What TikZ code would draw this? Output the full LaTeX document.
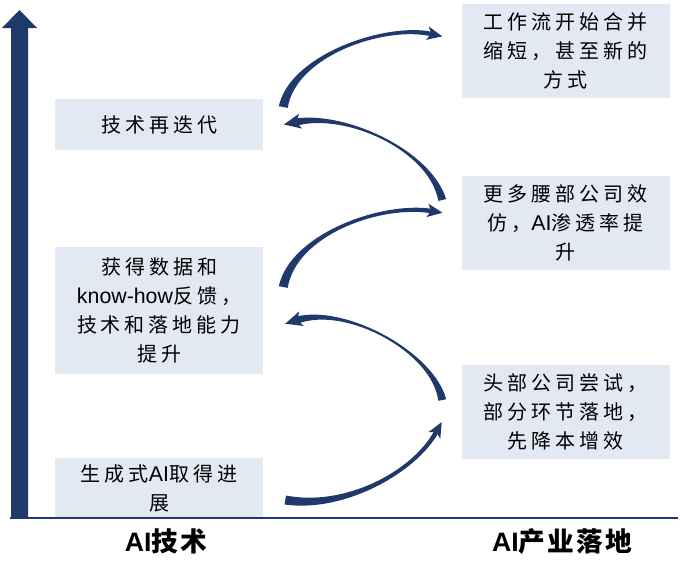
\documentclass[tikz,border=0pt]{standalone}
\usepackage{fontspec}
\usetikzlibrary{calc}
\newfontfamily\cjk{Noto Sans CJK SC}[LetterSpace=20]
\newfontfamily\cjkb{Noto Sans CJK SC}[LetterSpace=8]
\newfontfamily\ltn{Liberation Sans}
\definecolor{navy}{RGB}{30,57,106}
\definecolor{boxfill}{RGB}{226,233,242}
\newcommand\boxtext{\fontsize{15}{21.75}\selectfont\cjk}
\newcommand\en[1]{{\ltn\fontsize{16}{21.75}\selectfont #1}}
% #1 start, #2 c1, #3 c2, #4 end, #5..#8 half widths, #9 head size
\newcommand\taperarrow[9]{%
  \fill[navy] ($(#1)!#5!90:(#2)$) .. controls ($(#2)!#6!-90:(#1)$) and ($(#3)!#7!90:(#4)$) .. ($(#4)!#8!-90:(#3)$)
    -- ($(#4)!#8!90:(#3)$) .. controls ($(#3)!#7!-90:(#4)$) and ($(#2)!#6!90:(#1)$) .. ($(#1)!#5!-90:(#2)$) -- cycle;
  \coordinate (hb) at ($(#4)!0.35*#9!(#3)$);
  \fill[navy] ($(#4)!-#9!(#3)$) -- ($(hb)!0.6*#9!90:(#3)$) -- (#4) -- ($(hb)!0.6*#9!-90:(#3)$) -- cycle;
}
\tikzset{
  box/.style={fill=boxfill, inner sep=0pt, align=center, font=\boxtext, minimum width=156pt},
  lbl/.style={inner sep=0pt, font=\fontsize{20}{24}\selectfont\cjkb\bfseries},
}
\begin{document}
\begin{tikzpicture}[x=0.75pt,y=-0.75pt]
\useasboundingbox (0,0) rectangle (680,576);
\fill[white] (0,0) rectangle (680,576);
% vertical axis arrow
\fill[navy] (11,518) -- (11,28) -- (2,28) -- (19.5,10) -- (37,28) -- (28,28) -- (28,518) -- cycle;
% boxes left
\node[box, minimum height=45pt] (t1) at (159,488) {生成式\en{AI}取得进\\展};
\node[box, minimum height=95.25pt] (t2) at (159,310.5) {获得数据和\\\en{know-how}反馈，\\技术和落地能力\\提升};
\node[box, minimum height=38.25pt] (t3) at (159,124.5) {技术再迭代};
% boxes right
\node[box, minimum height=70.5pt] (i1) at (565.5,412) {头部公司尝试，\\部分环节落地，\\先降本增效};
\node[box, minimum height=70.5pt] (i2) at (565.5,223) {更多腰部公司效\\仿，\en{AI}渗透率提\\升};
\node[box, minimum height=70.5pt] (i3) at (565.5,51) {工作流开始合并\\缩短，甚至新的\\方式};
% baseline
\draw[navy, line width=1.2pt] (10,518) -- (678,518);
% labels
\node[lbl] (lt) at (166,541) {{\ltn AI}技术};
\node[lbl] (li) at (562,541) {{\ltn AI}产业落地};
% connectors
\coordinate (a1s) at ([shift={(22,12)}]t1.east);
\coordinate (a1e) at ([shift={(-25,20)}]i1.west);
\coordinate (a1c) at (345,510); \coordinate (a1d) at (414,472);
\taperarrow{a1s}{a1c}{a1d}{a1e}{3.4pt}{2.3pt}{1.4pt}{1.7pt}{8.5pt}
\coordinate (a2s) at ([shift={(-19,-12)}]i1.west);
\coordinate (a2e) at ([shift={(34,9.5)}]t2.east);
\coordinate (a2c) at (433,352); \coordinate (a2d) at (346,305);
\taperarrow{a2s}{a2c}{a2d}{a2e}{3pt}{0.6pt}{0.6pt}{2.7pt}{9.5pt}
\coordinate (a3s) at ([shift={(20,-23.5)}]t2.east);
\coordinate (a3e) at ([shift={(-30,-12)}]i2.west);
\coordinate (a3c) at (293,235); \coordinate (a3d) at (380,203);
\taperarrow{a3s}{a3c}{a3d}{a3e}{3.4pt}{2.3pt}{1.4pt}{1.7pt}{8.5pt}
\coordinate (a4s) at ([shift={(-19,-23)}]i2.west);
\coordinate (a4e) at ([shift={(33,-2.5)}]t3.east);
\coordinate (a4c) at (430,150); \coordinate (a4d) at (346,112);
\taperarrow{a4s}{a4c}{a4d}{a4e}{3pt}{0.6pt}{0.6pt}{2.7pt}{9.5pt}
\coordinate (a5s) at ([shift={(20,-17.5)}]t3.east);
\coordinate (a5e) at ([shift={(-30,-17)}]i3.west);
\coordinate (a5c) at (293,55); \coordinate (a5d) at (385,24);
\taperarrow{a5s}{a5c}{a5d}{a5e}{3.4pt}{2.3pt}{1.4pt}{1.7pt}{8.5pt}
\end{tikzpicture}
\end{document}
